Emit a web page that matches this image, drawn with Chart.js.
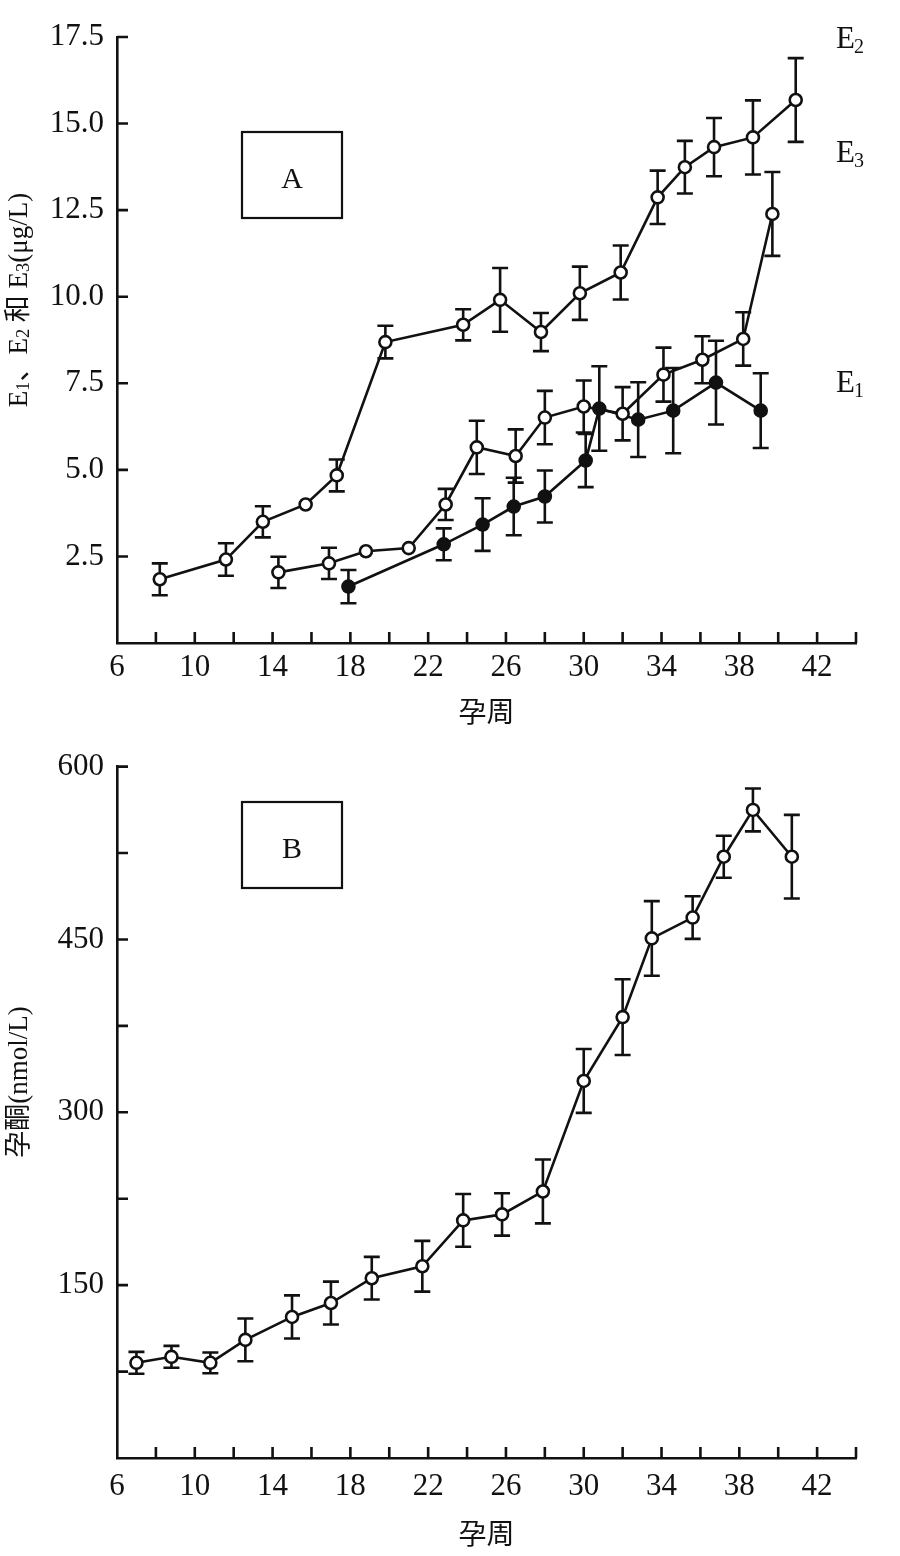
<!DOCTYPE html>
<html><head><meta charset="utf-8">
<script src="https://cdn.jsdelivr.net/npm/chart.js@4/dist/chart.umd.min.js"></script>
<style>
html,body{margin:0;padding:0;background:#fff;width:900px;height:1556px;overflow:hidden}
.box{position:absolute;left:0;width:900px}
</style></head><body>
<div class="box" style="top:0;height:745px"><canvas id="c1"></canvas></div>
<div class="box" style="top:735px;height:821px"><canvas id="c2"></canvas></div>
<script>
// ---- data (gestational week, value, ± error) ----
const e3Weeks  = [8.2, 11.6, 13.5, 15.7, 17.3, 19.8, 23.8, 25.7, 27.8, 29.8, 31.9, 33.8, 35.2, 36.7, 38.7, 40.9];
const e3Values = [1.84, 2.41, 3.5, 4.0, 4.84, 8.69, 9.19, 9.91, 8.98, 10.1, 10.7, 12.87, 13.74, 14.32, 14.6, 15.68];
const e3Errors = [0.46, 0.47, 0.45, 0, 0.46, 0.47, 0.45, 0.92, 0.55, 0.77, 0.78, 0.77, 0.76, 0.84, 1.07, 1.21];

const e2Weeks  = [14.3, 16.9, 18.8, 21.0, 22.9, 24.5, 26.5, 28.0, 30.0, 32.0, 34.1, 36.1, 38.2, 39.7];
const e2Values = [2.04, 2.3, 2.65, 2.74, 4.0, 5.65, 5.4, 6.51, 6.83, 6.62, 7.75, 8.18, 8.78, 12.39];
const e2Errors = [0.45, 0.45, 0, 0, 0.45, 0.77, 0.77, 0.77, 0.75, 0.77, 0.78, 0.68, 0.77, 1.21];

const e1Weeks  = [17.9, 22.8, 24.8, 26.4, 28.0, 30.1, 30.8, 32.8, 34.6, 36.8, 39.1];
const e1Values = [1.63, 2.85, 3.42, 3.94, 4.23, 5.27, 6.77, 6.45, 6.71, 7.52, 6.71];
const e1Errors = [0.48, 0.46, 0.76, 0.83, 0.75, 0.77, 1.22, 1.08, 1.23, 1.21, 1.08];

const pWeeks  = [7.0, 8.8, 10.8, 12.6, 15.0, 17.0, 19.1, 21.7, 23.8, 25.8, 27.9, 30.0, 32.0, 33.5, 35.6, 37.2, 38.7, 40.7];
const pValues = [82.6, 87.8, 82.6, 102.5, 122.4, 134.5, 156, 166.4, 206.2, 211.4, 231.3, 327.2, 382.6, 450.9, 469, 521.8, 562.4, 521.8];
const pErrors = [9.5, 9.5, 9, 18.5, 18.7, 18.6, 18.5, 22, 22.9, 18.4, 27.7, 27.7, 32.9, 32.4, 18.5, 18.2, 18.6, 36.3];

const xTickLabels  = [6, 10, 14, 18, 22, 26, 30, 34, 38, 42];
const yTickLabelsA = ['2.5', '5.0', '7.5', '10.0', '12.5', '15.0', '17.5'];
const yTickLabelsB = ['150', '300', '450', '600'];

// ---- styling ----
const SERIF = "'Liberation Serif', 'Noto Sans CJK SC', serif";
const INK = '#111';
const LW = 2.6;

function pts(xs, ys) { return xs.map((x, i) => ({x: x, y: ys[i]})); }

function ds(label, xs, ys, errs, filled) {
  return {
    label: label, data: pts(xs, ys), errors: errs,
    borderColor: INK, borderWidth: LW, tension: 0,
    pointRadius: 6, pointHoverRadius: 6, pointBorderWidth: LW,
    pointBorderColor: INK, pointBackgroundColor: filled ? INK : '#fff'
  };
}

const errorBarPlugin = {
  id: 'errorBars',
  beforeDatasetsDraw(chart) {
    const ctx = chart.ctx, ys = chart.scales.y;
    ctx.save();
    ctx.strokeStyle = INK; ctx.lineWidth = LW;
    chart.data.datasets.forEach((d, di) => {
      const meta = chart.getDatasetMeta(di);
      meta.data.forEach((el, i) => {
        const e = d.errors[i];
        if (!e) return;
        const v = d.data[i].y;
        const t = ys.getPixelForValue(v + e), b = ys.getPixelForValue(v - e);
        ctx.beginPath();
        ctx.moveTo(el.x, t); ctx.lineTo(el.x, b);
        ctx.moveTo(el.x - 8, t); ctx.lineTo(el.x + 8, t);
        ctx.moveTo(el.x - 8, b); ctx.lineTo(el.x + 8, b);
        ctx.stroke();
      });
    });
    ctx.restore();
  }
};

const inwardTicksPlugin = {
  id: 'inwardTicks',
  afterDraw(chart) {
    const ctx = chart.ctx, xs = chart.scales.x, ys = chart.scales.y, a = chart.chartArea;
    ctx.save();
    ctx.strokeStyle = INK; ctx.lineWidth = LW;
    ctx.beginPath();
    xs.ticks.forEach(t => {
      const p = xs.getPixelForValue(t.value);
      if (p > a.left + 2) { ctx.moveTo(p, a.bottom); ctx.lineTo(p, a.bottom - 11); }
    });
    ys.ticks.forEach(t => {
      const p = ys.getPixelForValue(t.value);
      if (p < a.bottom - 2) { ctx.moveTo(a.left, p); ctx.lineTo(a.left + 11, p); }
    });
    ctx.stroke();
    ctx.restore();
  }
};

function drawRich(ctx, segs, size) {
  const sub = size * 0.68;
  let w = 0;
  segs.forEach(s => { ctx.font = (s[1] ? sub : size) + 'px ' + SERIF; w += ctx.measureText(s[0]).width; });
  let x = -w / 2;
  segs.forEach(s => {
    ctx.font = (s[1] ? sub : size) + 'px ' + SERIF;
    ctx.fillText(s[0], x, s[1] ? size * 0.42 : size * 0.35);
    x += ctx.measureText(s[0]).width;
  });
}

function drawLabelE(ctx, sub, x, y) {
  ctx.font = '31px ' + SERIF;
  ctx.fillText('E', x, y);
  const w = ctx.measureText('E').width;
  ctx.font = '20px ' + SERIF;
  ctx.fillText(sub, x + w - 1, y + 5);
}

function annotations(kind, top) {
  return {
    id: 'annot' + kind,
    afterDraw(chart) {
      const ctx = chart.ctx;
      ctx.save();
      ctx.fillStyle = INK; ctx.strokeStyle = INK;
      const bx = 242, by = (kind === 'A' ? 132 : 802) - top;
      ctx.lineWidth = 2.2;
      ctx.strokeRect(bx, by, 100, 86);
      ctx.font = '30px ' + SERIF; ctx.textAlign = 'center'; ctx.textBaseline = 'middle';
      ctx.fillText(kind, bx + 50, by + 48);
      ctx.textAlign = 'left'; ctx.textBaseline = 'alphabetic';
      if (kind === 'A') {
        drawLabelE(ctx, '2', 836, 48);
        drawLabelE(ctx, '3', 836, 162);
        drawLabelE(ctx, '1', 836, 392);
        ctx.save();
        ctx.translate(18, 300); ctx.rotate(-Math.PI / 2);
        drawRich(ctx, [['E', 0], ['1', 1], ['、', 0], ['E', 0], ['2', 1], [' 和 E', 0], ['3', 1], ['(μg/L)', 0]], 27);
        ctx.restore();
      } else {
        ctx.save();
        ctx.translate(18, 1082 - top); ctx.rotate(-Math.PI / 2);
        drawRich(ctx, [['孕酮(nmol/L)', 0]], 27);
        ctx.restore();
      }
      ctx.restore();
    }
  };
}

function makeChart(id, datasets, yMax, yStep, yLabelFn, padTop, xAxisH, kind, top, xPad, titlePad) {
  return new Chart(document.getElementById(id), {
    type: 'line',
    data: { datasets: datasets },
    plugins: [errorBarPlugin, inwardTicksPlugin, annotations(kind, top)],
    options: {
      responsive: true, maintainAspectRatio: false, animation: false,
      devicePixelRatio: 1,
      layout: { padding: { left: 0, right: 44, top: padTop, bottom: 0 } },
      plugins: { legend: { display: false }, tooltip: { enabled: false } },
      events: [],
      scales: {
        x: {
          type: 'linear', min: 6, max: 44,
          grid: { display: false, drawTicks: false },
          border: { color: INK, width: LW },
          ticks: {
            stepSize: 2, autoSkip: false, maxRotation: 0, padding: xPad,
            color: INK, font: { family: SERIF, size: 31 },
            callback: v => xTickLabels.includes(v) ? String(v) : ''
          },
          title: {
            display: true, text: '孕周', color: INK,
            font: { family: "'Noto Sans CJK SC', sans-serif", size: 28 },
            padding: { top: 0, bottom: titlePad }
          },
          afterFit: s => { s.height = xAxisH; }
        },
        y: {
          type: 'linear', min: 0, max: yMax,
          grid: { display: false, drawTicks: false },
          border: { color: INK, width: LW },
          ticks: {
            stepSize: yStep, autoSkip: false, padding: 13,
            color: INK, font: { family: SERIF, size: 31 },
            callback: yLabelFn
          },
          afterFit: s => { s.width = 117; }
        }
      }
    }
  });
}

makeChart('c1', [
  ds('E3', e3Weeks, e3Values, e3Errors, false),
  ds('E2', e2Weeks, e2Values, e2Errors, false),
  ds('E1', e1Weeks, e1Values, e1Errors, true)
], 17.5, 2.5, v => { const s = v.toFixed(1); return yTickLabelsA.includes(s) ? s : ''; }, 37, 745 - 643, 'A', 0, 6, 17);

makeChart('c2', [
  ds('孕酮', pWeeks, pValues, pErrors, false)
], 600, 75, v => yTickLabelsB.includes(String(v)) ? String(v) : '', 27, 821 - 723, 'B', 735, 10, 6);
</script>
</body></html>
